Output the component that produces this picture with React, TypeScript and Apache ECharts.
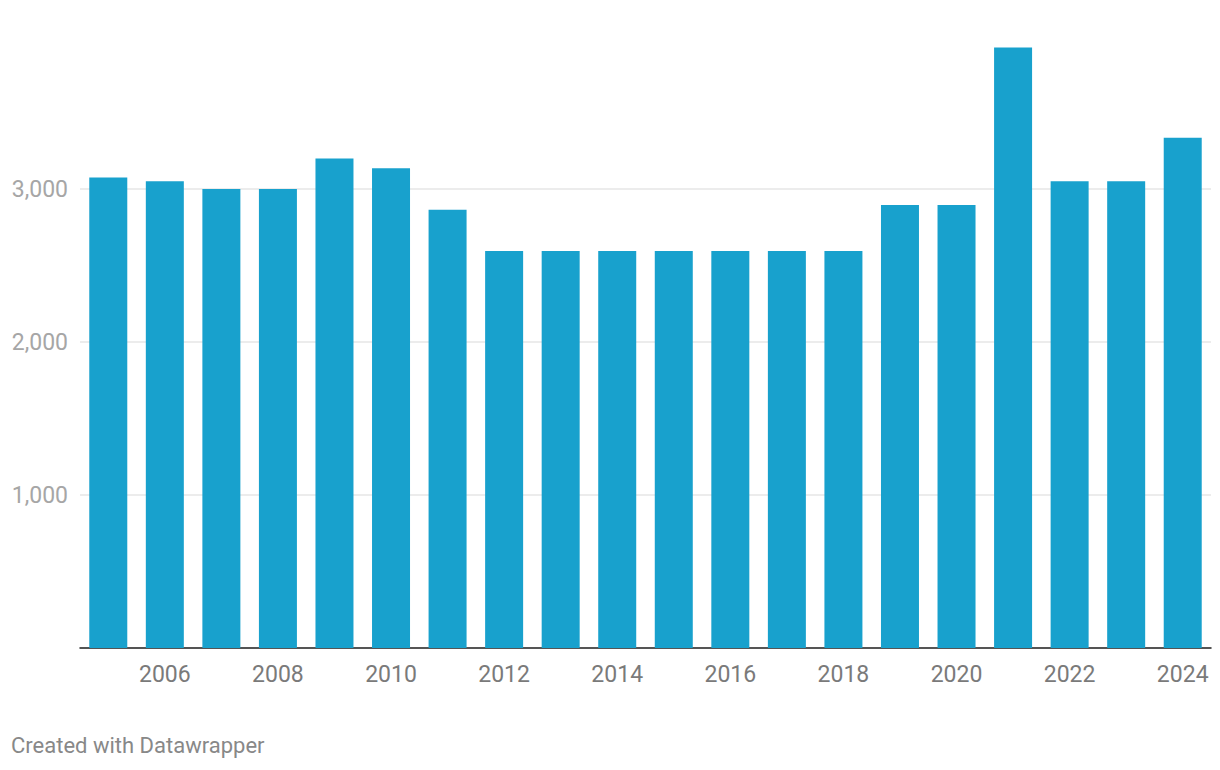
import React, { useEffect, useRef } from "react";
import * as echarts from "echarts";

const years = [
  "2005", "2006", "2007", "2008", "2009", "2010", "2011", "2012", "2013", "2014",
  "2015", "2016", "2017", "2018", "2019", "2020", "2021", "2022", "2023", "2024",
];
const values = [
  3075, 3050, 3000, 3000, 3200, 3135, 2865, 2595, 2595, 2595,
  2595, 2595, 2595, 2595, 2895, 2895, 3925, 3050, 3050, 3335,
];
const yTicks = [0, 1000, 2000, 3000, 4000];
const footer = "Created with Datawrapper";

export default function App() {
  const ref = useRef<HTMLDivElement>(null);
  useEffect(() => {
    document.body.style.margin = "0";
    if (!ref.current) return;
    const chart = echarts.init(ref.current, null, { renderer: "svg" });
    chart.setOption({
      animation: false,
      backgroundColor: "#ffffff",
      textStyle: { fontFamily: "Roboto" },
      grid: { left: 80, right: 9, top: 36, bottom: 122 },
      xAxis: {
        type: "category",
        data: years,
        axisTick: { show: false },
        axisLine: { show: true, lineStyle: { color: "#1d1d1d", width: 1.5 } },
        axisLabel: {
          interval: (i: number) => i % 2 === 1,
          color: "#7a7a7a",
          fontSize: 23,
          fontFamily: "Roboto",
          margin: 15,
        },
      },
      yAxis: {
        type: "value",
        min: yTicks[0],
        max: yTicks[yTicks.length - 1],
        interval: 1000,
        axisLine: { show: false },
        axisTick: { show: false },
        splitLine: {
          show: true,
          showMinLine: false,
          showMaxLine: false,
          lineStyle: { color: "#e6e6e6", width: 1.5 },
        },
        axisLabel: {
          showMinLabel: false,
          showMaxLabel: false,
          color: "#a6a6a6",
          fontSize: 23,
          fontFamily: "Roboto",
          margin: 12,
          formatter: (v: number) => v.toLocaleString("en-US"),
        },
      },
      series: [
        {
          type: "bar",
          data: values,
          barWidth: 38,
          itemStyle: { color: "#18a1cd" },
        },
      ],
      graphic: [
        {
          type: "text",
          left: 11,
          top: 734,
          style: {
            text: footer,
            fill: "#888888",
            fontSize: 22,
            fontFamily: "Roboto",
          },
        },
      ],
    });
    return () => chart.dispose();
  }, []);
  return <div ref={ref} style={{ width: 1220, height: 770 }} />;
}
